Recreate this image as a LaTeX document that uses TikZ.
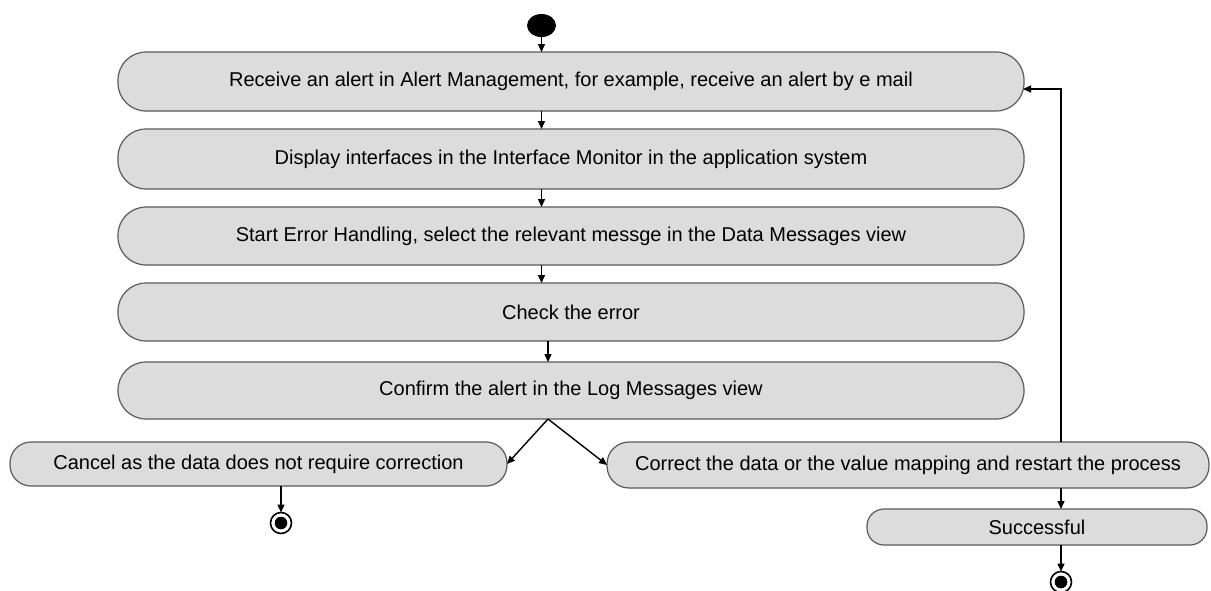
\documentclass[tikz,border=0pt]{standalone}
\usepackage{fontspec}
\setmainfont{Liberation Sans}
\usetikzlibrary{arrows.meta,shapes.geometric}
\definecolor{boxfill}{HTML}{DCDCDC}
\definecolor{boxline}{HTML}{5A5A5A}
\begin{document}
\begin{tikzpicture}[x=1pt,y=-1pt,
  every node/.style={inner sep=0pt,outer sep=0pt},
  actbox/.style={draw=boxline,fill=boxfill,line width=1.2pt,align=center,
    font=\fontsize{20}{24}\selectfont},
  bigbox/.style={actbox,minimum width=906pt,rounded corners=28pt},
  arr/.style={line width=1.4pt,-{Triangle[length=8pt,width=7pt]}},
  endring/.style={circle,draw=black,line width=1.6pt,fill=white,minimum size=21pt},
]
\useasboundingbox (0,0) rectangle (1211,590);
\node[ellipse,fill=black,minimum width=29pt,minimum height=23pt] (start) at (541.5,25.5) {};
\node[bigbox,minimum height=59pt] (b1) at (571,81.5) {Receive an alert in Alert Management, for example, receive an alert by e mail};
\node[bigbox,minimum height=60pt] (b2) at (571,159) {Display interfaces in the Interface Monitor in the application system};
\node[bigbox,minimum height=58pt] (b3) at (571,236) {Start Error Handling, select the relevant messge in the Data Messages view};
\node[bigbox,minimum height=58pt] (b4) at (571,312) {Check the error};
\node[bigbox,minimum height=57pt] (b5) at (571,390.5) {Confirm the alert in the Log Messages view};
\node[actbox,minimum width=497pt,minimum height=44pt,rounded corners=21pt] (cancel) at (258.5,464) {Cancel as the data does not require correction};
\node[actbox,minimum width=602pt,minimum height=46pt,rounded corners=22pt] (correct) at (908,465) {Correct the data or the value mapping and restart the process};
\node[actbox,minimum width=340pt,minimum height=36pt,rounded corners=17pt] (success) at (1037,527) {Successful};
\node[endring] (end1) at (281,523) {};
\fill[black] (end1.center) circle (6.3pt);
\node[endring] (end2) at (1061,582) {};
\fill[black] (end2.center) circle (6.3pt);
\coordinate (loop) at (1061,89);
\draw[arr] (start.south) -- (start.south |- b1.north);
\draw[arr] (b1.south -| start) -- (b2.north -| start);
\draw[arr] (b2.south -| start) -- (b3.north -| start);
\draw[arr] (b3.south -| start) -- (b4.north -| start);
\draw[arr] ([xshift=-23pt]b4.south) -- ([xshift=-23pt]b5.north);
\draw[arr] ([xshift=-23pt]b5.south) -- (cancel.east);
\draw[arr] ([xshift=-23pt]b5.south) -- (correct.west);
\draw[arr] (cancel.south -| end1) -- (end1.north);
\draw[arr] (correct.south -| loop) -- (success.north -| loop);
\draw[arr] (success.south -| end2) -- (end2.north);
\draw[arr] (correct.north -| loop) -- (loop) -- ([xshift=-1pt]b1.east |- loop);
\end{tikzpicture}
\end{document}
